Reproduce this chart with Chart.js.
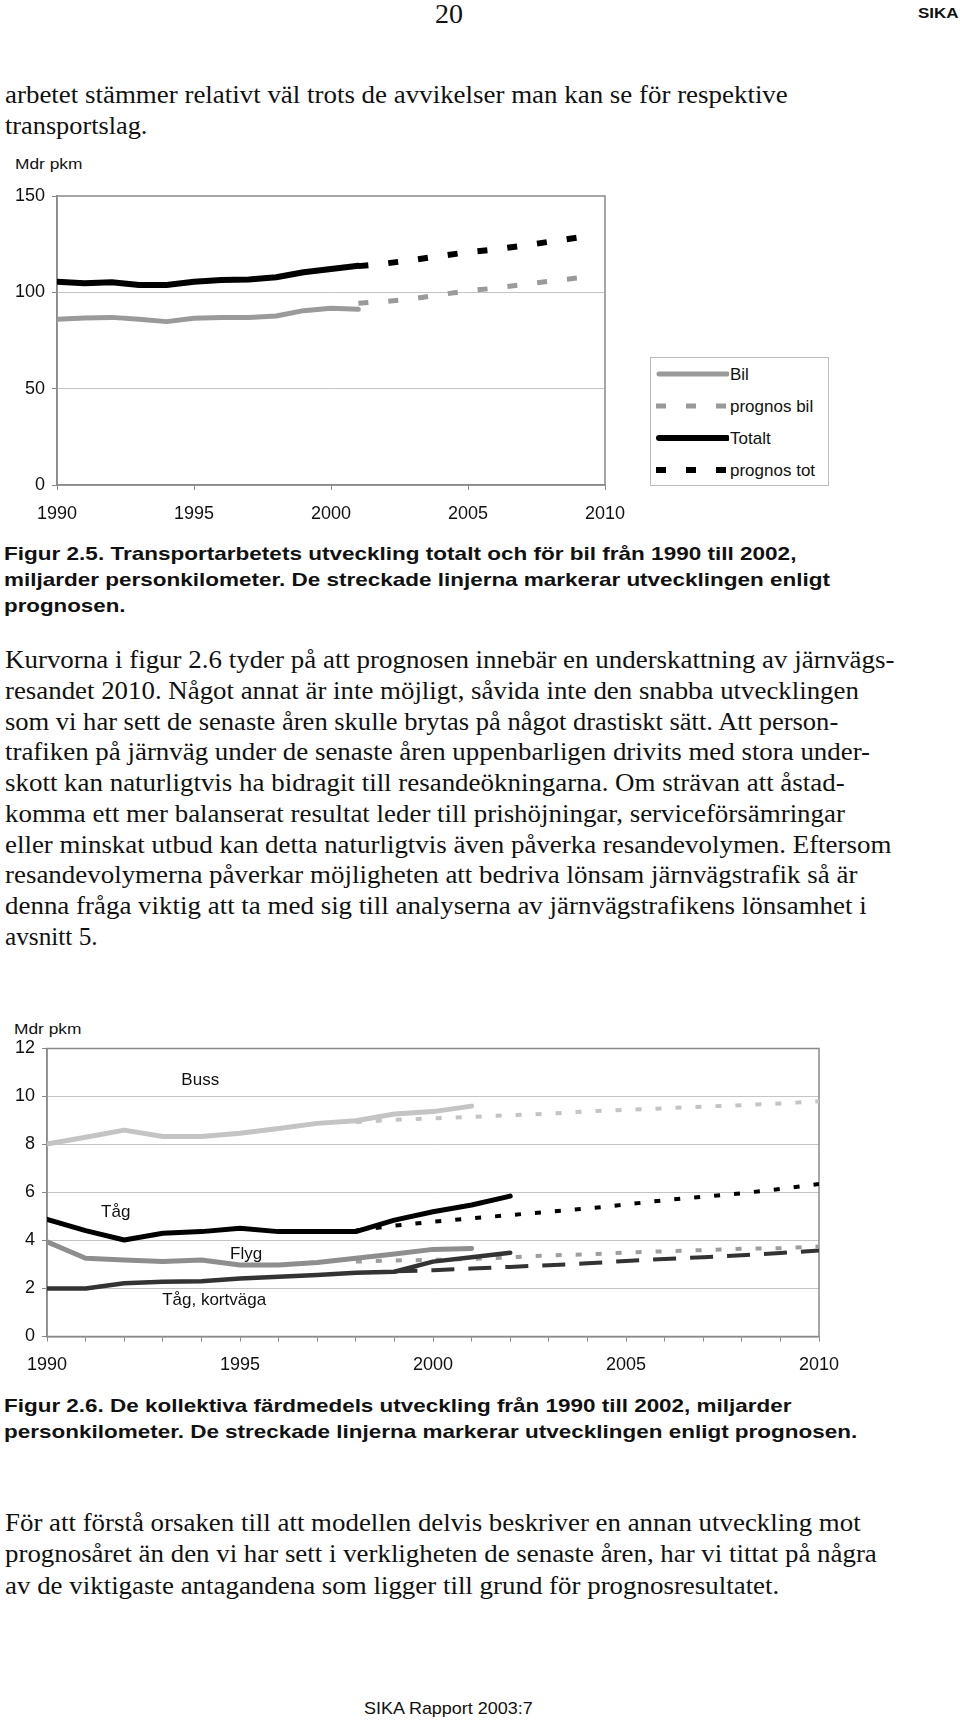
<!DOCTYPE html>
<html lang="sv">
<head>
<meta charset="utf-8">
<title>SIKA Rapport 2003:7 - sida 20</title>
<script src="https://cdn.jsdelivr.net/npm/chart.js@4.4.1/dist/chart.umd.min.js"></script>
<style>
  html, body { margin: 0; padding: 0; background: #fff; }
  body { position: relative; width: 960px; height: 1721px; overflow: hidden; color: #111; }
  .ln { position: absolute; white-space: nowrap; line-height: 1; transform-origin: 0 50%; transform: translateY(-50%); }
  .serif { font-family: "Liberation Serif", "Times New Roman", serif; font-size: 25px; left: 5px; }
  .cap { font-family: "Liberation Sans", Arial, sans-serif; font-weight: bold; font-size: 19px; left: 4px; }
  .sans { font-family: "Liberation Sans", Arial, sans-serif; }
  canvas { position: absolute; left: 0; }
  #legend1 { position: absolute; left: 650px; top: 357px; width: 177px; height: 127px; border: 1px solid #bdbdbd;
             font-family: "Liberation Sans", Arial, sans-serif; font-size: 17px; color: #111; }
  .lg-row { position: relative; height: 32px; }
  .lg-row svg { position: absolute; left: 4px; top: 0; }
  .lg-row span { position: absolute; left: 79px; top: 16px; transform: translateY(-50%); white-space: nowrap; line-height: 1; }
</style>
</head>
<body>

<div class="ln" style="left:435px; top:14px; font-family:'Liberation Serif',serif; font-size:27px;" data-w="28">20</div>
<div class="ln sans" style="left:918px; top:13px; font-size:14px; font-weight:bold;" data-w="40">SIKA</div>

<div class="ln serif" style="top:94px" data-w="783">arbetet stämmer relativt väl trots de avvikelser man kan se för respektive</div>
<div class="ln serif" style="top:125px" data-w="142">transportslag.</div>

<div class="ln sans" style="left:15px; top:163px; font-size:15px;" data-w="67">Mdr pkm</div>
<canvas id="chart1" width="640" height="380" style="top:150px"></canvas>
<div id="legend1"></div>

<div class="ln cap" style="top:553px" data-w="792">Figur 2.5. Transportarbetets utveckling totalt och för bil från 1990 till 2002,</div>
<div class="ln cap" style="top:579px" data-w="826">miljarder personkilometer. De streckade linjerna markerar utvecklingen enligt</div>
<div class="ln cap" style="top:605px" data-w="121">prognosen.</div>

<div class="ln serif" style="top:659px" data-w="889">Kurvorna i figur 2.6 tyder på att prognosen innebär en underskattning av järnvägs-</div>
<div class="ln serif" style="top:690px" data-w="854">resandet 2010. Något annat är inte möjligt, såvida inte den snabba utvecklingen</div>
<div class="ln serif" style="top:721px" data-w="833">som vi har sett de senaste åren skulle brytas på något drastiskt sätt. Att person-</div>
<div class="ln serif" style="top:751px" data-w="865">trafiken på järnväg under de senaste åren uppenbarligen drivits med stora under-</div>
<div class="ln serif" style="top:782px" data-w="840">skott kan naturligtvis ha bidragit till resandeökningarna. Om strävan att åstad-</div>
<div class="ln serif" style="top:813px" data-w="840">komma ett mer balanserat resultat leder till prishöjningar, serviceförsämringar</div>
<div class="ln serif" style="top:844px" data-w="886">eller minskat utbud kan detta naturligtvis även påverka resandevolymen. Eftersom</div>
<div class="ln serif" style="top:874px" data-w="852">resandevolymerna påverkar möjligheten att bedriva lönsam järnvägstrafik så är</div>
<div class="ln serif" style="top:905px" data-w="862">denna fråga viktig att ta med sig till analyserna av järnvägstrafikens lönsamhet i</div>
<div class="ln serif" style="top:936px" data-w="93">avsnitt 5.</div>

<div class="ln sans" style="left:14px; top:1028px; font-size:15px;" data-w="67">Mdr pkm</div>
<canvas id="chart2" width="860" height="370" style="top:1010px"></canvas>

<div class="ln cap" style="top:1405px" data-w="787">Figur 2.6. De kollektiva färdmedels utveckling från 1990 till 2002, miljarder</div>
<div class="ln cap" style="top:1431px" data-w="853">personkilometer. De streckade linjerna markerar utvecklingen enligt prognosen.</div>

<div class="ln serif" style="top:1522px" data-w="856">För att förstå orsaken till att modellen delvis beskriver en annan utveckling mot</div>
<div class="ln serif" style="top:1553px" data-w="872">prognosåret än den vi har sett i verkligheten de senaste åren, har vi tittat på några</div>
<div class="ln serif" style="top:1585px" data-w="774">av de viktigaste antagandena som ligger till grund för prognosresultatet.</div>

<div class="ln sans" style="left:364px; top:1708px; font-size:17px;" data-w="169">SIKA Rapport 2003:7</div>

<script>
// år 1990-2010, gemensamma för båda figurerna
const years = [1990, 1991, 1992, 1993, 1994, 1995, 1996, 1997, 1998, 1999, 2000,
               2001, 2002, 2003, 2004, 2005, 2006, 2007, 2008, 2009, 2010];

// Figur 2.5, miljarder personkm
const bil        = [86.0, 86.7, 87.0, 86.0, 84.8, 86.5, 86.9, 87.0, 87.7, 90.5, 91.7, 91.2,
                    null, null, null, null, null, null, null, null, null];
const prognosBil = [null, null, null, null, null, null, null, null, null, null, null,
                    94.3, 95.3, 96.7, 98.8, 100.8, 102.2, 104.1, 105.8, 107.5, null];
const totalt     = [105.5, 104.7, 105.2, 103.8, 103.8, 105.5, 106.4, 106.7, 107.8, 110.4, 112.1, 113.8,
                    null, null, null, null, null, null, null, null, null];
const prognosTot = [null, null, null, null, null, null, null, null, null, null, null,
                    113.6, 115.0, 116.8, 118.9, 120.8, 122.3, 124.2, 126.3, 128.4, null];

// Figur 2.6, miljarder personkm
const buss        = [8.02, 8.30, 8.60, 8.33, 8.33, 8.47, 8.67, 8.88, 8.99, 9.27, 9.37, 9.60,
                     null, null, null, null, null, null, null, null, null];
const bussPrognos = [null, null, null, null, null, null, null, null, 8.93, 9.03, 9.09, 9.15,
                     9.22, 9.28, 9.38, 9.44, 9.51, 9.58, 9.64, 9.71, 9.80];
const tag         = [4.88, 4.41, 4.02, 4.30, 4.37, 4.51, 4.37, 4.37, 4.37, 4.85, 5.20, 5.48, 5.85,
                     null, null, null, null, null, null, null, null];
const tagPrognos  = [null, null, null, null, null, null, null, null, 4.42, 4.62, 4.78, 4.92,
                     5.06, 5.20, 5.33, 5.50, 5.68, 5.82, 5.97, 6.15, 6.35];
const flyg        = [3.95, 3.26, 3.19, 3.12, 3.19, 2.98, 2.98, 3.08, 3.26, 3.44, 3.63, 3.67,
                     null, null, null, null, null, null, null, null, null];
const flygPrognos = [null, null, null, null, null, null, null, null, 3.12, 3.17, 3.19, 3.23,
                     3.30, 3.38, 3.42, 3.50, 3.55, 3.60, 3.66, 3.68, 3.75];
const kortvaga        = [2.00, 2.00, 2.22, 2.28, 2.30, 2.42, 2.49, 2.56, 2.66, 2.70, 3.12, 3.30, 3.49,
                         null, null, null, null, null, null, null, null];
const kortvagaPrognos = [null, null, null, null, null, null, null, null, null, 2.72, 2.76, 2.83,
                         2.90, 2.97, 3.05, 3.15, 3.23, 3.30, 3.39, 3.48, 3.58];

// namnen som står inne i figur 2.6 (år, värde)
const seriesNames  = ['Buss', 'Tåg', 'Flyg', 'Tåg, kortväga'];
const seriesNameAt = [[1993.97, 10.69], [1991.78, 5.19], [1995.16, 3.44], [1994.33, 1.52]];

const pts = arr => years.map((yr, i) => ({ x: yr, y: arr[i] }));

Chart.defaults.font.family = '"Liberation Sans", Arial, sans-serif';
Chart.defaults.color = '#111';

function solid(label, data, color, width) {
    return { label, data: pts(data), borderColor: color, borderWidth: width,
             borderCapStyle: 'round', borderJoinStyle: 'round', order: 0 };
}
function dashed(label, data, color, width, dash) {
    return { label, data: pts(data), borderColor: color, borderWidth: width,
             borderDash: dash, borderCapStyle: 'butt', order: 1 };
}

// ram runt ritytan
const frame = {
    id: 'frame',
    beforeDatasetsDraw(chart) {
        const a = chart.chartArea, c = chart.ctx;
        c.save();
        c.strokeStyle = '#8a8a8a';
        c.lineWidth = 1.5;
        c.strokeRect(a.left, a.top, a.right - a.left, a.bottom - a.top);
        c.restore();
    }
};

const nameLabels = {
    id: 'nameLabels',
    afterDatasetsDraw(chart) {
        const c = chart.ctx, sx = chart.scales.x, sy = chart.scales.y;
        c.save();
        c.font = '17px "Liberation Sans", Arial, sans-serif';
        c.fillStyle = '#111';
        c.textAlign = 'center';
        c.textBaseline = 'middle';
        seriesNames.forEach((t, i) => {
            c.fillText(t, sx.getPixelForValue(seriesNameAt[i][0]), sy.getPixelForValue(seriesNameAt[i][1]));
        });
        c.restore();
    }
};

function baseOptions(yMax, yStep, xStep, yWidth, xHeight, padding) {
    return {
        responsive: false,
        animation: false,
        layout: { padding: padding },
        elements: { point: { radius: 0 }, line: { tension: 0, fill: false } },
        plugins: { legend: { display: false }, tooltip: { enabled: false } },
        scales: {
            x: {
                type: 'linear', min: 1990, max: 2010,
                ticks: { stepSize: xStep, autoSkip: false, maxRotation: 0, padding: 13,
                         font: { size: 18 }, color: '#111',
                         callback: v => (v % 5 === 0 ? String(v) : '') },
                grid: { drawOnChartArea: false, tickLength: 5, tickColor: '#888' },
                border: { color: '#888', width: 1.5 },
                afterFit: s => { s.height = xHeight; }
            },
            y: {
                min: 0, max: yMax,
                ticks: { stepSize: yStep, padding: 7, font: { size: 18 }, color: '#111' },
                grid: {
                    color: c => (c.tick && (c.tick.value === 0 || c.tick.value === yMax)) ? 'rgba(0,0,0,0)' : '#c4c4c4',
                    tickLength: 5, tickColor: '#888'
                },
                border: { color: '#888', width: 1.5 },
                afterFit: s => { s.width = yWidth; }
            }
        }
    };
}

const chart1 = new Chart(document.getElementById('chart1'), {
    type: 'line',
    data: {
        datasets: [
            solid('Bil', bil, '#9a9a9a', 5),
            dashed('prognos bil', prognosBil, '#9a9a9a', 5, [10, 20]),
            solid('Totalt', totalt, '#000', 6),
            dashed('prognos tot', prognosTot, '#000', 6, [10, 20])
        ]
    },
    options: baseOptions(150, 50, 5, 57, 45, { top: 46, right: 35, left: 0, bottom: 0 }),
    plugins: [frame]
});

const chart2 = new Chart(document.getElementById('chart2'), {
    type: 'line',
    data: {
        datasets: [
            solid('Buss', buss, '#c4c4c4', 5),
            dashed('Buss prognos', bussPrognos, '#c4c4c4', 4, [6, 14]),
            solid('Tåg', tag, '#000', 5),
            dashed('Tåg prognos', tagPrognos, '#000', 4, [6, 14]),
            solid('Flyg', flyg, '#8e8e8e', 5),
            dashed('Flyg prognos', flygPrognos, '#9e9e9e', 4, [6, 14]),
            solid('Tåg, kortväga', kortvaga, '#333', 4.5),
            dashed('Tåg, kortväga prognos', kortvagaPrognos, '#333', 4, [23, 14])
        ]
    },
    options: baseOptions(12, 2, 1, 47, 43.5, { top: 38.5, right: 41, left: 0, bottom: 0 }),
    plugins: [frame, nameLabels]
});

// teckenförklaring för figur 2.5 byggd från diagrammets dataserier
function buildLegend(chart, boxId) {
    const NS = 'http://www.w3.org/2000/svg';
    const box = document.getElementById(boxId);
    chart.data.datasets.forEach(ds => {
        const row = document.createElement('div');
        row.className = 'lg-row';
        const svg = document.createElementNS(NS, 'svg');
        svg.setAttribute('width', '74');
        svg.setAttribute('height', '32');
        const line = document.createElementNS(NS, 'line');
        line.setAttribute('x1', ds.borderDash ? '1' : '4');
        line.setAttribute('x2', '72');
        line.setAttribute('y1', '16');
        line.setAttribute('y2', '16');
        line.setAttribute('stroke', ds.borderColor);
        line.setAttribute('stroke-width', ds.borderWidth);
        line.setAttribute('stroke-linecap', ds.borderCapStyle);
        if (ds.borderDash) line.setAttribute('stroke-dasharray', ds.borderDash.join(' '));
        svg.appendChild(line);
        const txt = document.createElement('span');
        txt.textContent = ds.label;
        row.appendChild(svg);
        row.appendChild(txt);
        box.appendChild(row);
    });
}
buildLegend(chart1, 'legend1');

// textraderna pressas till samma bredd som i förlagan
function fitLines() {
    document.querySelectorAll('.ln[data-w]').forEach(el => {
        const k = parseFloat(el.dataset.w) / el.offsetWidth;
        el.style.transform = 'translateY(-50%) scaleX(' + k.toFixed(4) + ')';
    });
}
fitLines();
document.fonts.ready.then(fitLines);
</script>
</body>
</html>
